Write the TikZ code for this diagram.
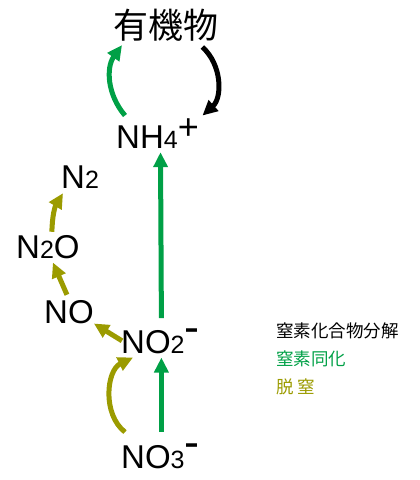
\documentclass[tikz,border=0pt]{standalone}
\usepackage{fontspec}
\setmainfont{Liberation Sans}
\newfontfamily\jp{Noto Sans CJK JP}
\usetikzlibrary{arrows.meta}
\definecolor{assim}{RGB}{0,160,70}
\definecolor{denit}{RGB}{155,155,0}
\newcommand{\ix}[1]{{\fontsize{25}{25}\selectfont #1}}
\newcommand{\chg}[3]{\raisebox{#1}{\fontsize{#2}{#2}\selectfont #3}}

\begin{document}
\begin{tikzpicture}[x=1pt, y=-1pt, >={Triangle[length=15pt, width=14pt]},
	chem/.style={anchor=base west, inner sep=0pt, font=\fontsize{33}{33}\selectfont},
	leg/.style={anchor=base west, inner sep=0pt, font=\jp\fontsize{17.5}{18}\selectfont},
	flow/.style={->, line width=5pt}]
	\useasboundingbox (0,0) rectangle (420,480);
	\node[chem, font=\jp\fontsize{35}{35}\selectfont] (yuki) at (113,38) {有機物};
	\node[chem] (nh) at (116,148) {NH\ix{4}\chg{8.5pt}{36}{+}};
	\node[chem] (ntwo) at (61,188) {N\ix{2}};
	\node[chem] (ntwoo) at (16,258) {N\ix{2}O};
	\node[chem] (no) at (44,323) {NO};
	\node[chem] (notwo) at (121,353) {NO\ix{2}\chg{11pt}{45}{-}};
	\node[chem] (nothree) at (121,468) {NO\ix{3}\chg{11pt}{45}{-}};
	% legend
	\node[leg] (decomp) at (276,337) {窒素化合物分解};
	\node[leg, text=assim] (assimlab) at (276,365) {窒素同化};
	\node[leg, text=denit] (denitlab) at (276,393) {脱 窒};
	% nitrogen assimilation
	\draw[flow, assim] ([xshift=1pt, yshift=11pt]nothree.north) -- ([xshift=1pt, yshift=-4pt]notwo.south);
	\draw[flow, assim] ([xshift=1pt, yshift=10pt]notwo.north) -- ([xshift=3pt, yshift=-4pt]nh.south);
	\draw[flow, assim] ([xshift=9pt, yshift=3pt]nh.north west) to[bend left=38] ([xshift=9pt, yshift=-4pt]yuki.south west);
	% decomposition
	\draw[flow, black] ([xshift=-16pt, yshift=-6pt]yuki.south east) to[bend left=48] ([xshift=45pt, yshift=3pt]nh.north);
	% denitrification
	\draw[flow, denit] ([xshift=4pt, yshift=11pt]nothree.north west) to[bend left=58] ([xshift=12pt, yshift=-4pt]notwo.south west);
	\draw[flow, denit] ([xshift=1pt]notwo.west) -- (no.south east);
	\draw[flow, denit] ([xshift=-2pt, yshift=5pt]no.north) -- ([xshift=5pt, yshift=-4pt]ntwoo.south);
	\draw[flow, denit] ([xshift=4pt, yshift=3pt]ntwoo.north) to[bend left=15] ([xshift=2pt, yshift=-5pt]ntwo.south west);
\end{tikzpicture}
\end{document}
